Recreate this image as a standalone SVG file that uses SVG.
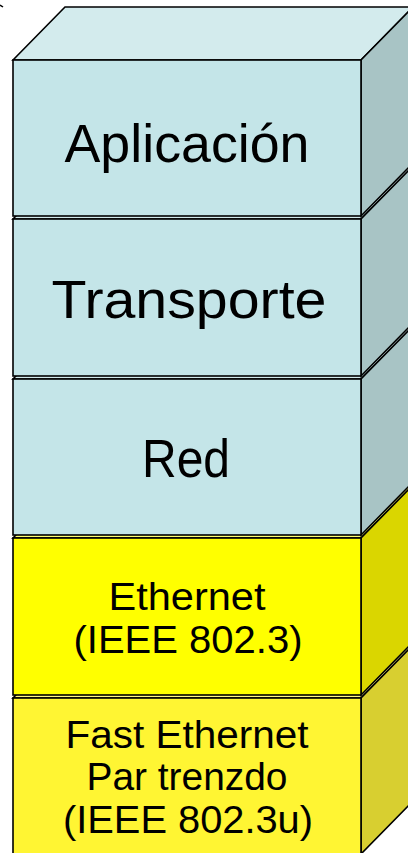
<svg xmlns="http://www.w3.org/2000/svg" width="408" height="853" viewBox="0 0 408 853">
<style>
.edge{stroke:#000;stroke-width:1.6;stroke-linejoin:miter}
.cF{fill:#C4E5E8}.cT{fill:#D3EBED}.cR{fill:#A8C4C5}
.yF{fill:#FFFF00}.yT{fill:#FFFF70}.yR{fill:#DAD600}
.zF{fill:#FFF533}.zT{fill:#FFF780}.zR{fill:#D8CF30}
.lbl{font-family:"Comic Sans MS","Liberation Sans",sans-serif;fill:#000;text-anchor:middle}
.big{font-size:54px}.small{font-size:38px}
</style>
<rect width="408" height="853" fill="#fff"/>
<path d="M0,5 L3,7" stroke="#000" stroke-width="1.5"/>
<g id="fast-ethernet">
<path class="edge zT" d="M13,698 L65,645 L413,645 L361,698 Z"/>
<path class="edge zR" d="M361,698 L413,645 L413,801 L361,854 Z"/>
<rect class="edge zF" x="13" y="698" width="348" height="156"/>
<text class="lbl small" x="187" y="748" textLength="243" lengthAdjust="spacingAndGlyphs">Fast Ethernet</text>
<text class="lbl small" x="187" y="790" textLength="201" lengthAdjust="spacingAndGlyphs">Par trenzdo</text>
<text class="lbl small" x="188" y="833" textLength="250" lengthAdjust="spacingAndGlyphs">(IEEE 802.3u)</text>
</g>
<g id="ethernet">
<path class="edge yT" d="M13,538 L65,485 L413,485 L361,538 Z"/>
<path class="edge yR" d="M361,538 L413,485 L413,642 L361,695 Z"/>
<rect class="edge yF" x="13" y="538" width="348" height="157"/>
<text class="lbl small" x="187" y="610" textLength="157" lengthAdjust="spacingAndGlyphs">Ethernet</text>
<text class="lbl small" x="188" y="653" textLength="229" lengthAdjust="spacingAndGlyphs">(IEEE 802.3)</text>
</g>
<g id="red">
<path class="edge cT" d="M13,379 L65,326 L413,326 L361,379 Z"/>
<path class="edge cR" d="M361,379 L413,326 L413,482 L361,535 Z"/>
<rect class="edge cF" x="13" y="379" width="348" height="156"/>
<text class="lbl big" x="186" y="477" textLength="88" lengthAdjust="spacingAndGlyphs">Red</text>
</g>
<g id="transporte">
<path class="edge cT" d="M13,219 L65,166 L413,166 L361,219 Z"/>
<path class="edge cR" d="M361,219 L413,166 L413,323 L361,376 Z"/>
<rect class="edge cF" x="13" y="219" width="348" height="157"/>
<text class="lbl big" x="189" y="318" textLength="275" lengthAdjust="spacingAndGlyphs">Transporte</text>
</g>
<g id="aplicacion">
<path class="edge cT" d="M13,60 L65,7 L413,7 L361,60 Z"/>
<path class="edge cR" d="M361,60 L413,7 L413,163 L361,216 Z"/>
<rect class="edge cF" x="13" y="60" width="348" height="156"/>
<text class="lbl big" x="187" y="162" textLength="245" lengthAdjust="spacingAndGlyphs">Aplicación</text>
</g>
<g id="connectors"></g>
</svg>
